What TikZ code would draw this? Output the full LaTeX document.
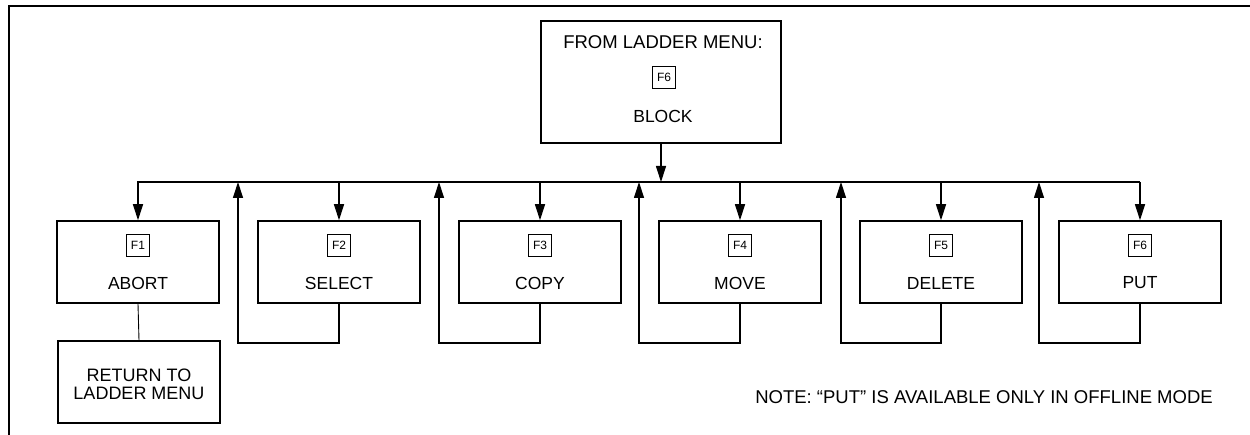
\documentclass[tikz,border=0pt]{standalone}
\usepackage{fontspec}
\setmainfont{Liberation Sans}
\usetikzlibrary{arrows.meta,calc}
\begin{document}
\begin{tikzpicture}[x=1pt,y=-1pt,
  box/.style={draw,line width=1.5pt,minimum width=162pt,minimum height=82pt,inner sep=0pt},
  keybox/.style={draw,line width=0.8pt,minimum width=23pt,minimum height=22pt,inner sep=0pt,font=\fontsize{12}{13}\selectfont},
  lbl/.style={font=\fontsize{17.5}{18}\selectfont,inner sep=0pt},
  wire/.style={line width=1.2pt},
  arr/.style={wire,-{Triangle[length=16pt,width=10pt]}}]
\useasboundingbox (0,0) rectangle (1250,435);
% frame
\draw[line width=1.8pt] (9,435) -- (9,6) -- (1250,6);
% top box
\node[box,minimum width=240pt,minimum height=122pt] (top) at (661,82) {};
\node[lbl,font=\fontsize{18.5}{19}\selectfont] (toptext) at (663,42) {FROM LADDER MENU:};
\node[keybox] (ktop) at (664,77) {F6};
\node[lbl] (block) at (663,116) {BLOCK};
% bus
\coordinate (busL) at (137,182);
\coordinate (busR) at (1140,182);
\draw[line width=1.8pt] (busL) -- (busR);
\draw[arr] (top.south) -- (top.south |- busL);
% boxes
\foreach \n/\x/\k/\t in {abort/138/F1/ABORT, select/339/F2/SELECT, copy/540/F3/COPY, move/740/F4/MOVE, delete/941/F5/DELETE, put/1140/F6/PUT}{
  \node[box] (\n) at (\x,262) {};
  \node[keybox] (\n k) at (\x,245) {\k};
  \node[lbl] (\n t) at (\x,283) {\t};
  \draw[arr] (\n.north |- busL) -- (\n.north);
}
% return box
\node[box] (ret) at (139,382) {};
\node[lbl,align=center,font=\fontsize{18}{18}\selectfont] (rett) at (139,384) {RETURN TO\\LADDER MENU};
\draw[line width=0.9pt] (abort.south) -- (ret.north);
% loops
\foreach \n/\lx in {select/238, copy/439, move/639, delete/841, put/1039}{
  \coordinate (\n c) at (\lx,343);
  \draw[arr] (\n.south) -- (\n.south |- \n c) -- (\n c) -- (\n c |- busL);
}
% note
\node[lbl,font=\fontsize{18.5}{19}\selectfont] (note) at (984,397) {NOTE: ``PUT'' IS AVAILABLE ONLY IN OFFLINE MODE};
\end{tikzpicture}
\end{document}
